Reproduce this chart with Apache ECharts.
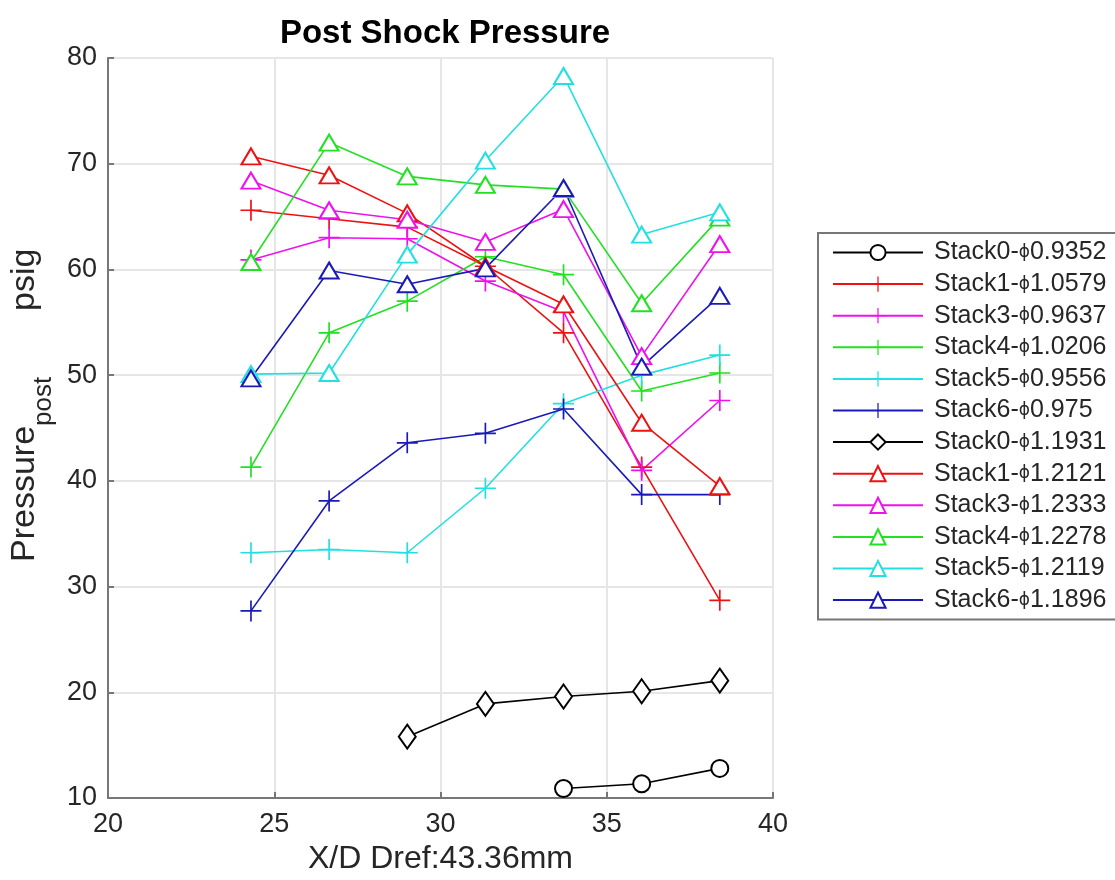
<!DOCTYPE html>
<html>
<head>
<meta charset="utf-8">
<script src="https://cdn.jsdelivr.net/npm/echarts@6/dist/echarts.min.js"></script>
<style>
html,body{margin:0;padding:0;background:#fff;}
#chart{width:1115px;height:880px;}
</style>
</head>
<body>
<div id="chart"></div>
<script>
// ---- data ----
var xPositions = [24.3, 26.65, 29.0, 31.35, 33.7, 36.05, 38.4];
var xTicks = [20, 25, 30, 35, 40];
var yTicks = [10, 20, 30, 40, 50, 60, 70, 80];

var seriesNames = [
  'Stack0-ϕ0.9352', 'Stack1-ϕ1.0579', 'Stack3-ϕ0.9637', 'Stack4-ϕ1.0206',
  'Stack5-ϕ0.9556', 'Stack6-ϕ0.975', 'Stack0-ϕ1.1931', 'Stack1-ϕ1.2121',
  'Stack3-ϕ1.2333', 'Stack4-ϕ1.2278', 'Stack5-ϕ1.2119', 'Stack6-ϕ1.1896'
];
var stack0Lean = [null, null, null, null, 10.9, 11.35, 12.8];
var stack1Lean = [65.6, 64.8, 64.0, 60.3, 54.0, 41.3, 28.7];
var stack3Lean = [60.9, 63.0, 62.9, 58.9, 56.0, 41.0, 47.6];
var stack4Lean = [41.3, 54.0, 57.0, 61.2, 59.5, 48.5, 50.2];
var stack5Lean = [33.2, 33.5, 33.2, 39.3, 47.3, 50.0, 51.9];
var stack6Lean = [27.7, 38.1, 43.6, 44.5, 46.8, 38.7, 38.7];
var stack0Rich = [null, null, 15.8, 18.9, 19.6, 20.1, 21.1];
var stack1Rich = [70.7, 68.9, 65.3, 60.3, 56.7, 45.5, 39.5];
var stack3Rich = [68.4, 65.6, 64.7, 62.6, 65.7, 51.8, 62.4];
var stack4Rich = [60.7, 72.0, 68.8, 68.0, 67.6, 56.8, 64.9];
var stack5Rich = [50.1, 50.2, 61.4, 70.3, 78.3, 63.3, 65.4];
var stack6Rich = [49.7, 59.9, 58.6, 60.1, 67.7, 50.8, 57.5];

var seriesValues = [stack0Lean, stack1Lean, stack3Lean, stack4Lean, stack5Lean, stack6Lean,
                    stack0Rich, stack1Rich, stack3Rich, stack4Rich, stack5Rich, stack6Rich];
var seriesColors = ['#000000', '#ee1111', '#ee11ee', '#22e022', '#22e0e0', '#1a1ab8',
                    '#000000', '#ee1111', '#ee11ee', '#22e022', '#22e0e0', '#1a1ab8'];
var seriesMarkers = ['circle', 'plus', 'plus', 'plus', 'plus', 'plus',
                     'diamond', 'triangle', 'triangle', 'triangle', 'triangle', 'triangle'];

// ---- styling ----
var PLUS = 'path://M9.2,0 h1.6 v9.2 h9.2 v1.6 h-9.2 v9.2 h-1.6 v-9.2 h-9.2 v-1.6 h9.2 z';
function markerSpec(kind, color) {
  if (kind === 'plus') {
    return {symbol: PLUS, symbolSize: 21, itemStyle: {color: color, borderWidth: 0}};
  }
  if (kind === 'circle') {
    return {symbol: 'emptyCircle', symbolSize: 17, itemStyle: {color: color, borderColor: color, borderWidth: 1.6}};
  }
  if (kind === 'diamond') {
    return {symbol: 'emptyDiamond', symbolSize: [17, 24], itemStyle: {color: color, borderColor: color, borderWidth: 1.6}};
  }
  return {symbol: 'emptyTriangle', symbolSize: [19, 16], itemStyle: {color: color, borderColor: color, borderWidth: 1.6}};
}

var series = seriesNames.map(function (name, i) {
  var m = markerSpec(seriesMarkers[i], seriesColors[i]);
  return {
    name: name,
    type: 'line',
    data: xPositions.map(function (x, j) { return [x, seriesValues[i][j]]; }),
    connectNulls: false,
    symbol: m.symbol,
    symbolSize: m.symbolSize,
    showAllSymbol: true,
    itemStyle: m.itemStyle,
    lineStyle: {color: seriesColors[i], width: 1.6},
    color: seriesColors[i],
    animation: false
  };
});

var chart = echarts.init(document.getElementById('chart'), null, {renderer: 'canvas'});
var FONT = 'Liberation Sans, Arial, Helvetica, sans-serif';
var LABEL = '#262626';
chart.setOption({
  backgroundColor: '#ffffff',
  animation: false,
  title: {
    text: 'Post Shock Pressure',
    left: 440, top: 12, textAlign: 'center',
    textStyle: {fontFamily: FONT, fontWeight: 'bold', fontSize: 33, color: '#000'}
  },
  grid: {left: 108, right: 342, top: 58, bottom: 81, containLabel: false},
  xAxis: {
    type: 'value', min: xTicks[0], max: xTicks[xTicks.length - 1], interval: 5,
    name: 'X/D Dref:43.36mm', nameLocation: 'middle', nameGap: 45,
    nameTextStyle: {fontFamily: FONT, fontSize: 32, color: LABEL},
    axisLine: {show: true, lineStyle: {color: '#777', width: 2}},
    axisTick: {show: true, inside: true, length: 6, lineStyle: {color: '#777', width: 2}},
    axisLabel: {fontFamily: FONT, fontSize: 27, color: LABEL, margin: 13},
    splitLine: {show: true, lineStyle: {color: '#e6e6e6', width: 2}}
  },
  yAxis: {
    type: 'value', min: yTicks[0], max: yTicks[yTicks.length - 1], interval: 10,
    axisLine: {show: true, lineStyle: {color: '#777', width: 2}},
    axisTick: {show: true, inside: true, length: 6, lineStyle: {color: '#777', width: 2}},
    axisLabel: {fontFamily: FONT, fontSize: 27, color: LABEL, margin: 11},
    splitLine: {show: true, lineStyle: {color: '#e6e6e6', width: 2}}
  },
  legend: {
    orient: 'vertical',
    left: 818, top: 233,
    padding: [7, 60, 7, 14],
    backgroundColor: '#fff',
    borderColor: '#777', borderWidth: 2,
    itemWidth: 90, itemHeight: 19, itemGap: 6.6,
    data: seriesNames,
    formatter: function (name) {
      var parts = name.split('ϕ');
      return '{a|' + parts[0] + '}{p|ϕ}{a|' + parts[1] + '}';
    },
    textStyle: {
      fontFamily: FONT, fontSize: 25, color: LABEL, padding: [0, 0, 0, 6],
      rich: {
        a: {fontFamily: FONT, fontSize: 25, color: LABEL, lineHeight: 24},
        p: {fontFamily: 'DejaVu Sans, sans-serif', fontSize: 17, color: LABEL, lineHeight: 24}
      }
    }
  },
  graphic: [
    {
      type: 'text', x: 25, y: 562, rotation: Math.PI / 2,
      style: {text: 'Pressure', font: '34px ' + FONT, fill: LABEL, textAlign: 'left', textVerticalAlign: 'middle'}
    },
    {
      type: 'text', x: 44, y: 426, rotation: Math.PI / 2,
      style: {text: 'post', font: '26px ' + FONT, fill: LABEL, textAlign: 'left', textVerticalAlign: 'middle'}
    },
    {
      type: 'text', x: 25, y: 311, rotation: Math.PI / 2,
      style: {text: 'psig', font: '34px ' + FONT, fill: LABEL, textAlign: 'left', textVerticalAlign: 'middle'}
    }
  ],
  series: series
});
</script>
</body>
</html>
